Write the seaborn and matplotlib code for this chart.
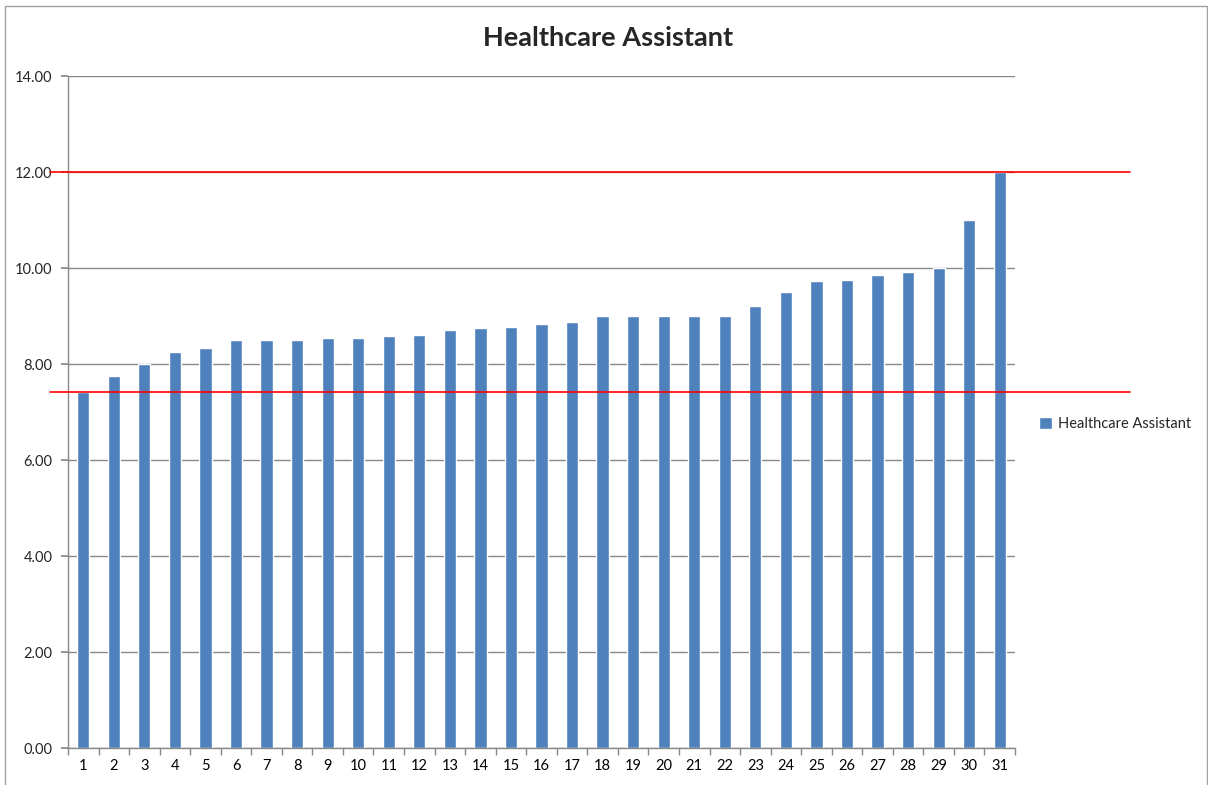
import numpy as np
import pandas as pd
import seaborn as sns
import matplotlib.pyplot as plt
import matplotlib.ticker as mticker
from matplotlib.patches import Rectangle, Patch

# data
categories = [str(i) for i in range(1, 32)]
values = [7.42, 7.75, 8.00, 8.26, 8.34, 8.50, 8.50, 8.50, 8.55, 8.55,
          8.59, 8.61, 8.70, 8.75, 8.77, 8.84, 8.88, 9.00, 9.00, 9.00,
          9.00, 9.00, 9.20, 9.50, 9.73, 9.75, 9.85, 9.92, 10.00, 11.00, 12.00]
series_name = 'Healthcare Assistant'
y_ticks = [0, 2, 4, 6, 8, 10, 12, 14]

bar_color = '#4F81BD'
grid_color = '#888888'

sns.set_theme(style='white')
plt.rcParams['font.family'] = ['Lato', 'DejaVu Sans']

df = pd.DataFrame({'cat': categories, 'val': values})

fig = plt.figure(figsize=(12.08, 7.85), dpi=100)
ax = fig.add_axes([68 / 1208, 1 - 748 / 785, (1015 - 68) / 1208, (748 - 76) / 785])

sns.barplot(data=df, x='cat', y='val', color=bar_color, width=0.4,
            saturation=1, ax=ax)

ax.set_xlim(-0.5, len(categories) - 0.5)
ax.set_ylim(y_ticks[0], y_ticks[-1])
ax.set_yticks(y_ticks)
ax.yaxis.set_major_formatter(mticker.FormatStrFormatter('%.2f'))
ax.set_axisbelow(True)
ax.yaxis.grid(True, color=grid_color, linewidth=1)
ax.set_xlabel('')
ax.set_ylabel('')

# tick marks sit between categories
ax.set_xticks(np.arange(-0.5, len(categories)), minor=True)
ax.tick_params(axis='x', which='major', length=0, labelsize=10.5, pad=8, colors='black')
ax.tick_params(axis='x', which='minor', length=5, color=grid_color, direction='out', bottom=True)
ax.tick_params(axis='y', length=5, color=grid_color, direction='out', labelsize=10.5, pad=6, left=True)

for side in ['top', 'right']:
    ax.spines[side].set_visible(False)
for side in ['left', 'bottom']:
    ax.spines[side].set_color(grid_color)
    ax.spines[side].set_linewidth(1)

# red reference lines at the min and max values
for level in [max(values), min(values)]:
    ax.plot([-0.019, 1.121], [level, level], color='red', linewidth=1.2,
            transform=ax.get_yaxis_transform(), clip_on=False, zorder=5)

fig.text(0.503, 1 - 38 / 785, series_name, ha='center', va='center',
         fontsize=19.5, fontweight='bold')

fig.legend([Patch(facecolor=bar_color)], [series_name], loc='center left',
           bbox_to_anchor=(1026 / 1208, 1 - 424 / 785), frameon=False,
           fontsize=10.5, handlelength=0.9, handleheight=0.9, handletextpad=0.4)

# outer chart border
fig.patches.append(Rectangle((5 / 1208, -0.02), 1202 / 1208, 1 - 6 / 785 + 0.02,
                             transform=fig.transFigure, fill=False,
                             edgecolor='#A0A0A0', linewidth=1))

fig.savefig('out.png', dpi=100)
